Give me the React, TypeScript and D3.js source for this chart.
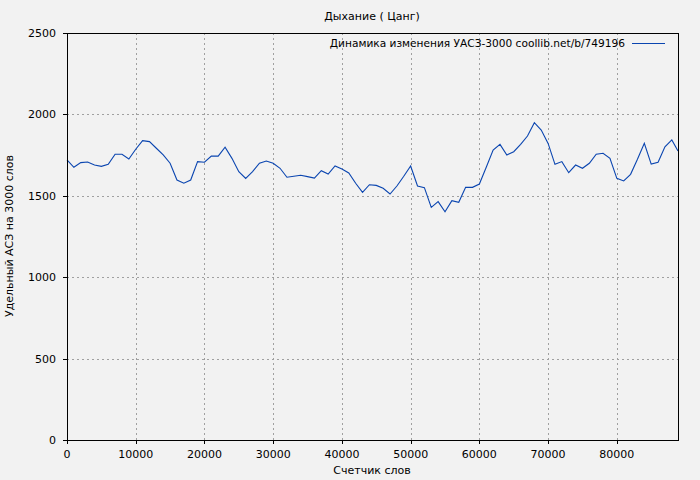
import React from "react";
import * as d3 from "d3";

const TITLE = "Дыхание ( Цанг)";
const LEGEND = "Динамика изменения УАСЗ-3000 coollib.net/b/749196";
const X_LABEL = "Счетчик слов";
const Y_LABEL = "Удельный АСЗ на 3000 слов";

const xTicks = [0, 10000, 20000, 30000, 40000, 50000, 60000, 70000, 80000];
const yTicks = [0, 500, 1000, 1500, 2000, 2500];

const words = [
  0, 1000, 2000, 3000, 4000, 5000, 6000, 7000, 8000, 9000,
  10000, 11000, 12000, 13000, 14000, 15000, 16000, 17000, 18000, 19000,
  20000, 21000, 22000, 23000, 24000, 25000, 26000, 27000, 28000, 29000,
  30000, 31000, 32000, 33000, 34000, 35000, 36000, 37000, 38000, 39000,
  40000, 41000, 42000, 43000, 44000, 45000, 46000, 47000, 48000, 49000,
  50000, 51000, 52000, 53000, 54000, 55000, 56000, 57000, 58000, 59000,
  60000, 61000, 62000, 63000, 64000, 65000, 66000, 67000, 68000, 69000,
  70000, 71000, 72000, 73000, 74000, 75000, 76000, 77000, 78000, 79000,
  80000, 81000, 82000, 83000, 84000, 85000, 86000, 87000, 88000, 88900,
];
const values = [
  1720, 1675, 1704, 1708, 1689, 1681, 1693, 1755, 1755, 1726,
  1786, 1839, 1833, 1792, 1751, 1700, 1597, 1577, 1597, 1710,
  1706, 1744, 1744, 1798, 1730, 1648, 1607, 1648, 1700, 1714,
  1700, 1669, 1614, 1620, 1626, 1618, 1609, 1654, 1634, 1683,
  1665, 1640, 1577, 1521, 1568, 1564, 1546, 1511, 1560, 1620,
  1683, 1560, 1550, 1429, 1464, 1402, 1470, 1460, 1552, 1552,
  1572, 1675, 1781, 1816, 1751, 1771, 1816, 1867, 1949, 1904,
  1822, 1693, 1710, 1642, 1689, 1669, 1700, 1755, 1761, 1730,
  1607, 1591, 1632, 1724, 1822, 1695, 1706, 1801, 1843, 1775,
];

const W = 700;
const H = 480;
const M = { left: 67, right: 678, top: 33, bottom: 440 };
const FONT = "'DejaVu Sans', sans-serif";

export default function App() {
  const x = d3.scaleLinear().domain([0, 88900]).range([M.left, M.right]);
  const y = d3.scaleLinear().domain([0, 2500]).range([M.bottom, M.top]);
  const pts = words.map((w, i) => [w, values[i]] as [number, number]);
  const line = d3
    .line<[number, number]>()
    .x((d) => x(d[0]))
    .y((d) => y(d[1]));

  return (
    <svg
      width={W}
      height={H}
      style={{ position: "absolute", left: 0, top: 0, background: "#f2f2f2" }}
      fontFamily={FONT}
    >
      <rect x={0} y={0} width={W} height={H} fill="#f2f2f2" />
      {xTicks
        .filter((t) => t > 0)
        .map((t) => (
          <line
            key={"gx" + t}
            x1={Math.round(x(t)) + 0.5}
            x2={Math.round(x(t)) + 0.5}
            y1={M.top}
            y2={M.bottom}
            stroke="#a0a0a0"
            strokeDasharray="2,3"
          />
        ))}
      {yTicks
        .filter((t) => t > 0 && t < 2500)
        .map((t) => (
          <line
            key={"gy" + t}
            x1={M.left}
            x2={M.right}
            y1={Math.round(y(t)) + 0.5}
            y2={Math.round(y(t)) + 0.5}
            stroke="#a0a0a0"
            strokeDasharray="2,3"
          />
        ))}
      <path d={line(pts) || ""} fill="none" stroke="#0a45b0" strokeWidth={1.1} />
      <rect
        x={M.left + 0.5}
        y={M.top + 0.5}
        width={M.right - M.left}
        height={M.bottom - M.top}
        fill="none"
        stroke="#000"
        strokeWidth={1}
      />
      {xTicks.map((t) => (
        <g key={"tx" + t}>
          <line
            x1={Math.round(x(t)) + 0.5}
            x2={Math.round(x(t)) + 0.5}
            y1={M.bottom}
            y2={M.bottom + 4}
            stroke="#000"
          />
          <text x={x(t)} y={M.bottom + 18} textAnchor="middle" fontSize={11} fill="#000">
            {t}
          </text>
        </g>
      ))}
      {yTicks.map((t) => (
        <g key={"ty" + t}>
          <line
            x1={M.left - 4}
            x2={M.left}
            y1={Math.round(y(t)) + 0.5}
            y2={Math.round(y(t)) + 0.5}
            stroke="#000"
          />
          <text x={M.left - 11} y={y(t) + 4} textAnchor="end" fontSize={11} fill="#000">
            {t}
          </text>
        </g>
      ))}
      <text x={372} y={20} textAnchor="middle" fontSize={11} fill="#000">
        {TITLE}
      </text>
      <text x={372} y={474} textAnchor="middle" fontSize={11} fill="#000">
        {X_LABEL}
      </text>
      <text
        transform={`translate(13,236) rotate(-90)`}
        textAnchor="middle"
        fontSize={11}
        fill="#000"
      >
        {Y_LABEL}
      </text>
      <text x={625} y={47} textAnchor="end" fontSize={10.6} fill="#000">
        {LEGEND}
      </text>
      <line x1={632} x2={665} y1={43.5} y2={43.5} stroke="#0a45b0" strokeWidth={1} />
    </svg>
  );
}
